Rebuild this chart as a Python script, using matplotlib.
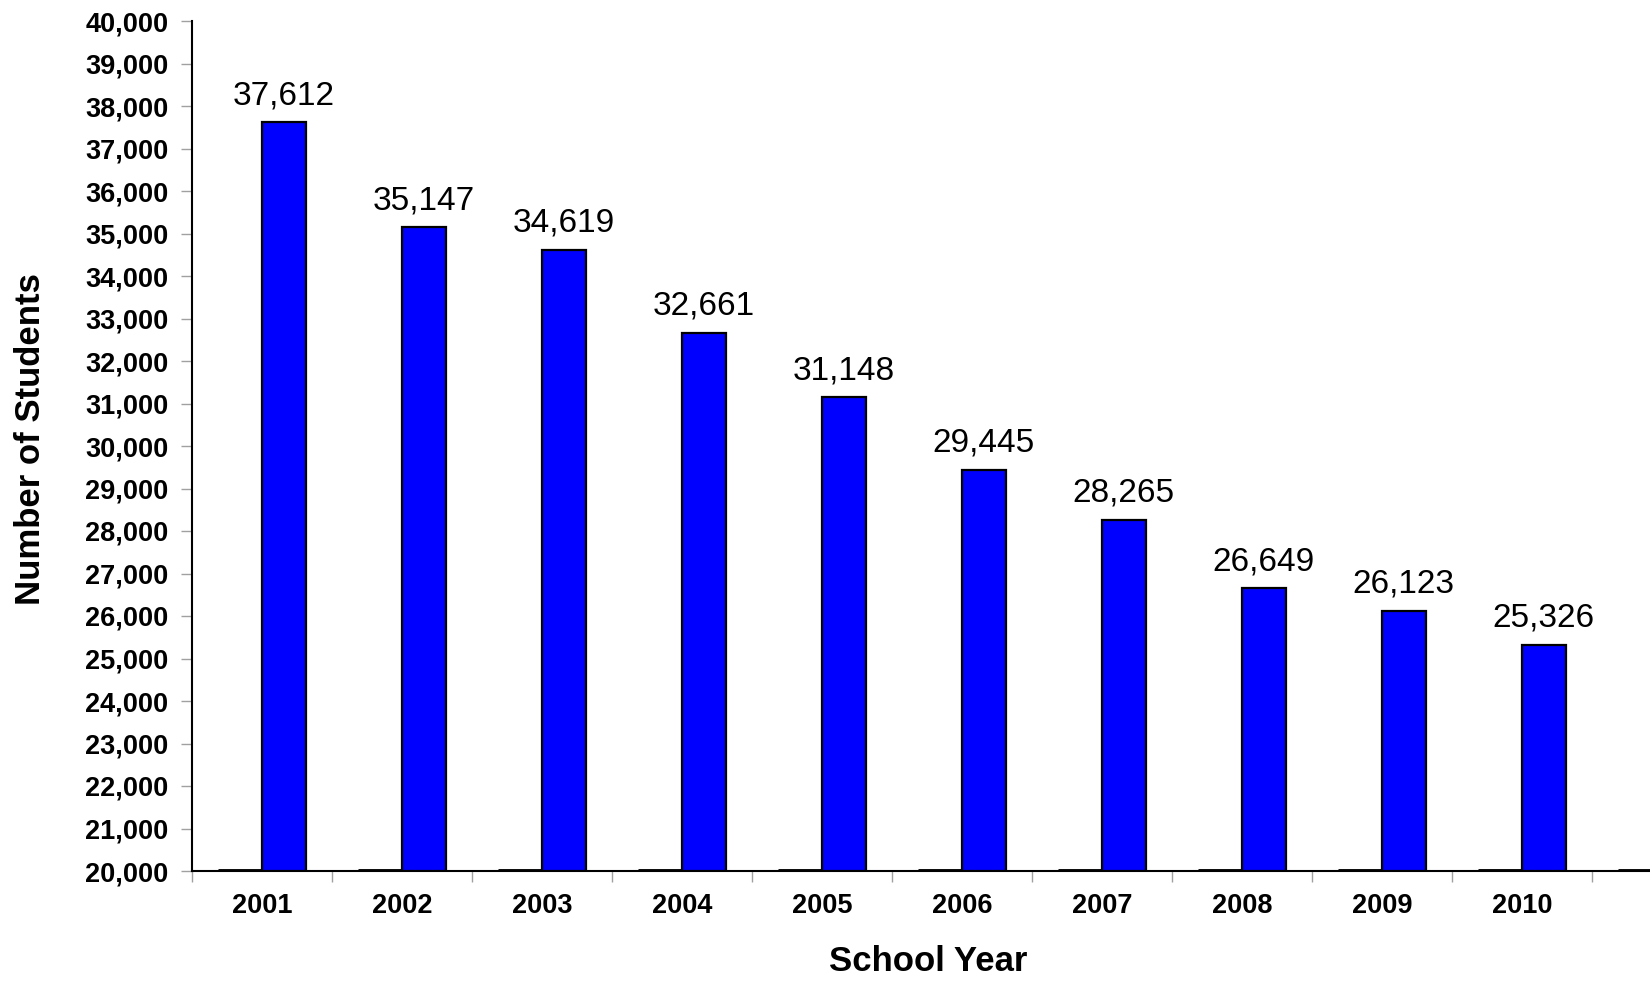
import matplotlib.pyplot as plt
import numpy as np

plt.rcParams['font.family'] = ['Liberation Sans', 'DejaVu Sans']

years = ['2001', '2002', '2003', '2004', '2005', '2006', '2007', '2008', '2009', '2010', '']
students = [37612, 35147, 34619, 32661, 31148, 29445, 28265, 26649, 26123, 25326, np.nan]
# empty first series, only its outline shows on the baseline
blank = [20000, 20000, 20000, 20000, 20000, 20000, 20000, 20000, 20000, 20000, 20000]

fig = plt.figure(figsize=(16.5, 9.82), dpi=100)
ax = fig.add_axes([192 / 1650, 111 / 982, 1540 / 1650, 850 / 982])

x = np.arange(len(years))
w = 0.312
ax.bar(x - w / 2, np.array(blank) - 20000, w, bottom=20000, color='white',
       edgecolor='black', linewidth=3.5, zorder=3)
ax.bar(x + w / 2, np.array(students) - 20000, w, bottom=20000, color='#0000ff',
       edgecolor='black', linewidth=1.6, zorder=3)

for i, v in enumerate(students):
    if np.isnan(v):
        continue
    ax.annotate(f'{v:,.0f}', (x[i] + w / 2, v), xytext=(0, 8), textcoords='offset points',
                ha='center', va='bottom', fontsize=24)

ax.set_xlim(-0.5, len(years) - 0.5)
ax.set_ylim(20000, 40000)
ax.set_yticks(np.arange(20000, 40001, 1000))
ax.set_yticklabels([f'{t:,}' for t in range(20000, 40001, 1000)], fontsize=19.5, fontweight='bold')

ax.set_xticks(np.arange(-0.5, len(years), 1))
ax.set_xticklabels([])
ax.set_xticks(x, minor=True)
ax.set_xticklabels(years, minor=True, fontsize=19.5, fontweight='bold')
ax.tick_params(axis='x', which='minor', length=0, pad=16)
ax.tick_params(axis='both', which='major', direction='out', length=8, width=1, color='#a0a0a0')
ax.tick_params(axis='y', pad=9)

for s in ['top', 'right']:
    ax.spines[s].set_visible(False)
ax.spines['left'].set_linewidth(1.5)
ax.spines['bottom'].set_linewidth(1.5)

ax.set_ylabel('Number of Students', fontsize=25, fontweight='bold')
ax.yaxis.set_label_coords(-0.094, 0.508)
ax.set_xlabel('School Year', fontsize=25, fontweight='bold')
ax.xaxis.set_label_coords(0.478, -0.087)

fig.savefig('out.png', dpi=100)
